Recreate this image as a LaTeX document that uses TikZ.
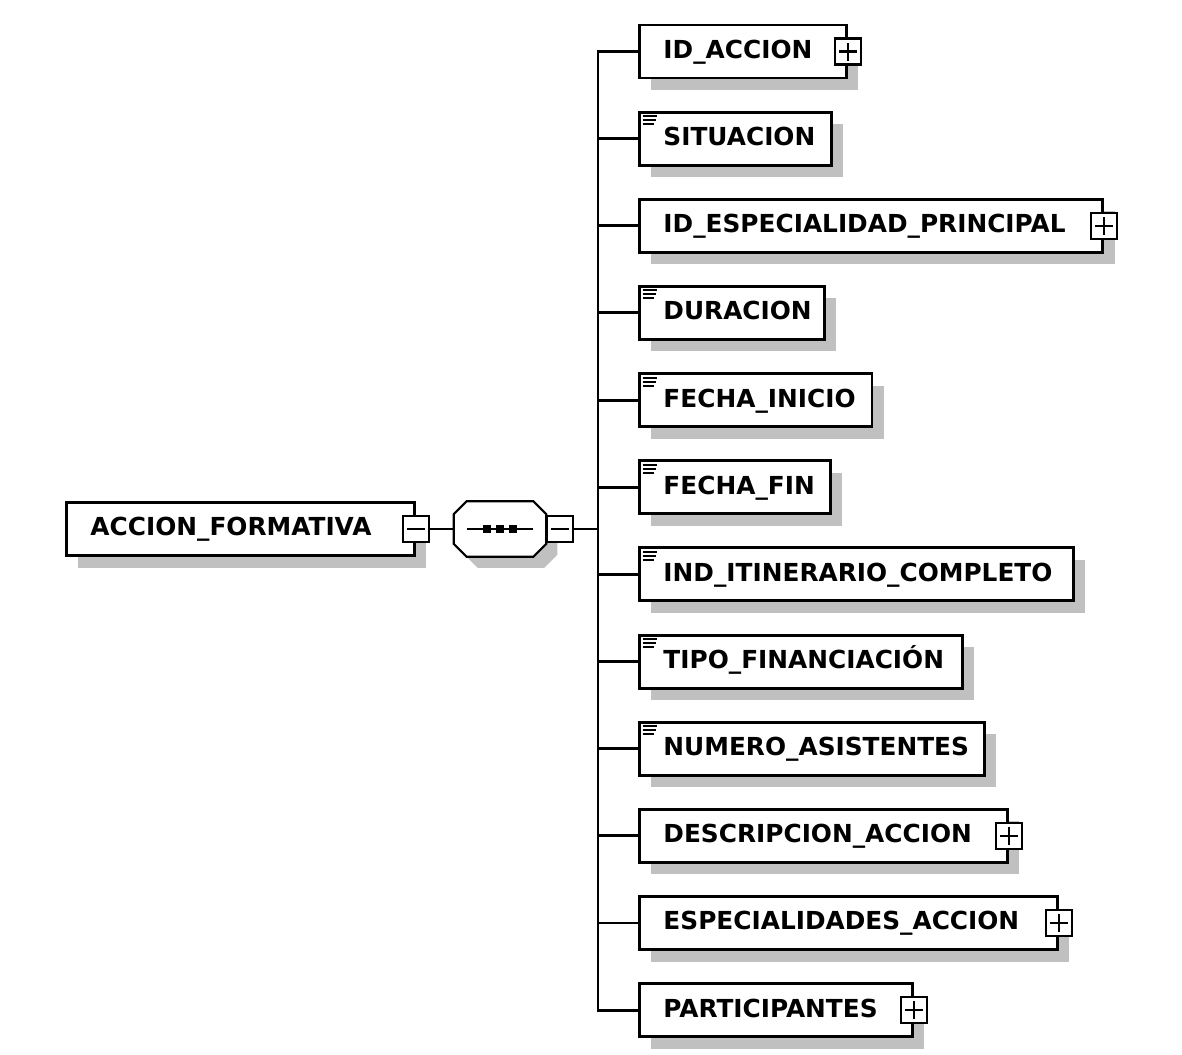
\documentclass[tikz,border=0pt]{standalone}
\usepackage{fontspec}
\newfontfamily\dvfont{DejaVu Sans}
\usetikzlibrary{shadows}
\definecolor{shadowgray}{RGB}{192,192,192}
\newcommand{\octpath}[1]{([shift={(13+#1,#1)}]seq.north west) -- ([shift={(-13+#1,#1)}]seq.north east) -- ([shift={(#1,13+#1)}]seq.north east) -- ([shift={(#1,-13+#1)}]seq.south east) -- ([shift={(-13+#1,#1)}]seq.south east) -- ([shift={(13+#1,#1)}]seq.south west) -- ([shift={(#1,-13+#1)}]seq.south west) -- ([shift={(#1,13+#1)}]seq.north west) -- cycle}
\tikzset{
  elembox/.style={rectangle, draw=black, fill=white, line width=2.2pt,
    minimum height=39.75pt, inner xsep=18pt, inner ysep=0pt, align=left, anchor=west,
    font=\dvfont\bfseries\fontsize{18.6}{22}\selectfont,
    text height=13.4pt, text depth=3pt,
    drop shadow={shadow xshift=9pt, shadow yshift=-9pt, fill=shadowgray, opacity=1}},
  pmbox/.style={rectangle, draw=black, fill=white, line width=1.6pt,
    minimum size=19.5pt, inner sep=0pt},
  plusbox/.style={pmbox, path picture={
    \draw[line width=1.6pt] ([xshift=3pt]path picture bounding box.west) -- ([xshift=-3pt]path picture bounding box.east)
      ([yshift=3pt]path picture bounding box.south) -- ([yshift=-3pt]path picture bounding box.north);}},
  minusbox/.style={pmbox, path picture={
    \draw[line width=1.6pt] ([xshift=3pt]path picture bounding box.west) -- ([xshift=-3pt]path picture bounding box.east);}},
  conn/.style={line width=2.2pt},
  iconline/.style={line width=1.5pt},
  seqshape/.style={rectangle, draw=none, minimum width=69pt, minimum height=41.25pt, inner sep=0pt}
}
\newcommand{\docicon}[1]{%
  \draw[iconline] ([shift={(4.5,5.5)}]#1.north west) -- ++(14,0);
  \draw[iconline] ([shift={(4.5,9.5)}]#1.north west) -- ++(13,0);
  \draw[iconline] ([shift={(4.5,13.5)}]#1.north west) -- ++(11.5,0);}
\begin{document}
\begin{tikzpicture}[x=0.75pt,y=-0.75pt]
\useasboundingbox (0,0) rectangle (1182,1054);
\fill[white] (0,0) rectangle (1182,1054);

% root element
\node[elembox, text width=225pt] (root) at (65,529) {ACCION\_FORMATIVA};
\node[minusbox] (rootm) at (root.east) {};

% sequence compositor
\node[seqshape] (seq) at (500,529) {};
\fill[shadowgray] \octpath{11};
\draw[line width=1.6pt, fill=white] \octpath{0};
\draw[line width=1.6pt] ([xshift=-24.4pt]seq.center) -- ([xshift=24.4pt]seq.center);
\fill ([shift={(-17.5,-4)}]seq.center) rectangle ++(8,8);
\fill ([shift={(-4,-4)}]seq.center) rectangle ++(8,8);
\fill ([shift={(9,-4)}]seq.center) rectangle ++(8,8);
\node[minusbox, anchor=west] (seqm) at (seq.east) {};
\draw[conn] (rootm.east) -- (seq.west);

\coordinate (trunk) at (598,529);
\draw[conn] (seqm.east) -- (trunk);

% children
\node[elembox, text width=119.25pt] (c0) at (638,51.5) {ID\_ACCION};
\node[elembox, text width=108pt] (c1) at (638,138.65) {SITUACION};
\node[elembox, text width=311.6pt] (c2) at (638,225.8) {ID\_ESPECIALIDAD\_PRINCIPAL};
\node[elembox, text width=102.75pt] (c3) at (638,312.95) {DURACION};
\node[elembox, text width=138.4pt] (c4) at (638,400.1) {FECHA\_INICIO};
\node[elembox, text width=107.25pt] (c5) at (638,487.25) {FECHA\_FIN};
\node[elembox, text width=289.3pt] (c6) at (638,574.4) {IND\_ITINERARIO\_COMPLETO};
\node[elembox, text width=206.25pt] (c7) at (638,661.55) {TIPO\_FINANCIACIÓN};
\node[elembox, text width=222.75pt] (c8) at (638,748.7) {NUMERO\_ASISTENTES};
\node[elembox, text width=240pt] (c9) at (638,835.85) {DESCRIPCION\_ACCION};
\node[elembox, text width=277.3pt] (c10) at (638,923) {ESPECIALIDADES\_ACCION};
\node[elembox, text width=168.75pt] (c11) at (638,1010.15) {PARTICIPANTES};

% expand boxes
\node[plusbox] (p0) at (c0.east) {};
\node[plusbox] (p2) at (c2.east) {};
\node[plusbox] (p9) at (c9.east) {};
\node[plusbox] (p10) at (c10.east) {};
\node[plusbox] (p11) at (c11.east) {};

% simple-type icons
\docicon{c1}
\docicon{c3}
\docicon{c4}
\docicon{c5}
\docicon{c6}
\docicon{c7}
\docicon{c8}

% connectors
\draw[conn] (c0.west) -- (c0.west -| trunk) -- (c11.west -| trunk) -- (c11.west);
\foreach \i in {1,...,10}{
  \draw[conn] (c\i.west -| trunk) -- (c\i.west);
}
\end{tikzpicture}
\end{document}
